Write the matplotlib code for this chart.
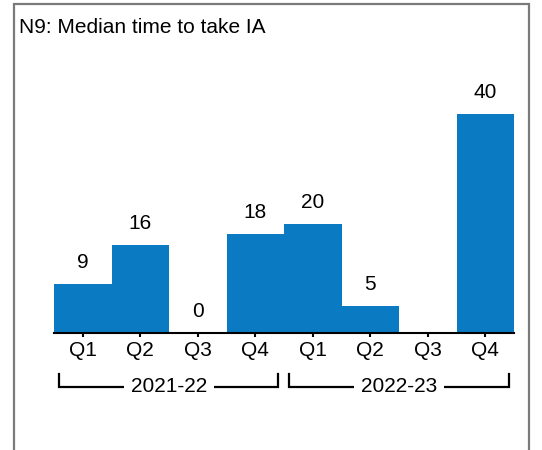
import matplotlib
matplotlib.use("Agg")
import matplotlib.pyplot as plt
from matplotlib.patches import Rectangle
from matplotlib.lines import Line2D
from matplotlib.transforms import blended_transform_factory

plt.rcParams['font.family'] = ['Liberation Sans', 'DejaVu Sans']

title = "N9: Median time to take IA"
quarters = ["Q1", "Q2", "Q3", "Q4", "Q1", "Q2", "Q3", "Q4"]
values = [9, 16, 0, 18, 20, 5, 0, 40]
value_labels = ["9", "16", "0", "18", "20", "5", "", "40"]
years = ["2021-22", "2022-23"]

W, H = 542, 450
fig = plt.figure(figsize=(W / 100, H / 100), dpi=100)

def fx(px):
    return px / W

def fy(py):
    return 1 - py / H

# outer border
fig.patches.append(Rectangle((fx(14), fy(470)), fx(529) - fx(14), fy(4) - fy(470),
                             transform=fig.transFigure, fill=False,
                             edgecolor='#7a7a7a', linewidth=1.6))

fig.text(fx(19), fy(33), title, fontsize=15, ha='left', va='baseline')

ax_left, ax_right = 54, 514
ax_bottom, ax_top = 333, 60
ax = fig.add_axes([fx(ax_left), fy(ax_bottom), fx(ax_right - ax_left), fy(ax_top) - fy(ax_bottom)])
ymax = 40 * (ax_bottom - ax_top) / (ax_bottom - 114)

x = list(range(len(values)))
ax.bar(x, values, width=1.0, color='#0a7bc2', edgecolor='none')
ax.set_xlim(-0.5, len(values) - 0.5)
ax.set_ylim(0, ymax)

for xi, v, lab in zip(x, values, value_labels):
    ax.annotate(lab, (xi, v), xytext=(0, 16), textcoords='offset pixels',
                ha='center', va='baseline', fontsize=15)

for s in ['top', 'right', 'left']:
    ax.spines[s].set_visible(False)
ax.spines['bottom'].set_linewidth(1.5)
ax.spines['bottom'].set_color('black')
ax.set_yticks([])
ax.set_xticks(x)
ax.set_xticklabels(quarters, fontsize=15)
ax.tick_params(axis='x', length=3, width=1.5, direction='out', pad=3)

# year brackets
tr = blended_transform_factory(ax.transData, fig.transFigure)
y_line = fy(387)
y_top = fy(374)
groups = [(-0.413, 3.396, 1.5), (3.587, 7.413, 5.5)]
for (x0, x1, xc), yr in zip(groups, years):
    ax.add_line(Line2D([x0, x0, x1, x1], [y_top, y_line, y_line, y_top],
                       transform=tr, color='black', linewidth=1.6, clip_on=False,
                       solid_joinstyle='miter'))
    ax.text(xc, fy(392.5), yr, transform=tr, ha='center', va='baseline', fontsize=15,
            bbox=dict(facecolor='white', edgecolor='none', pad=5), clip_on=False)

fig.savefig("out.png", dpi=100, facecolor='white')
